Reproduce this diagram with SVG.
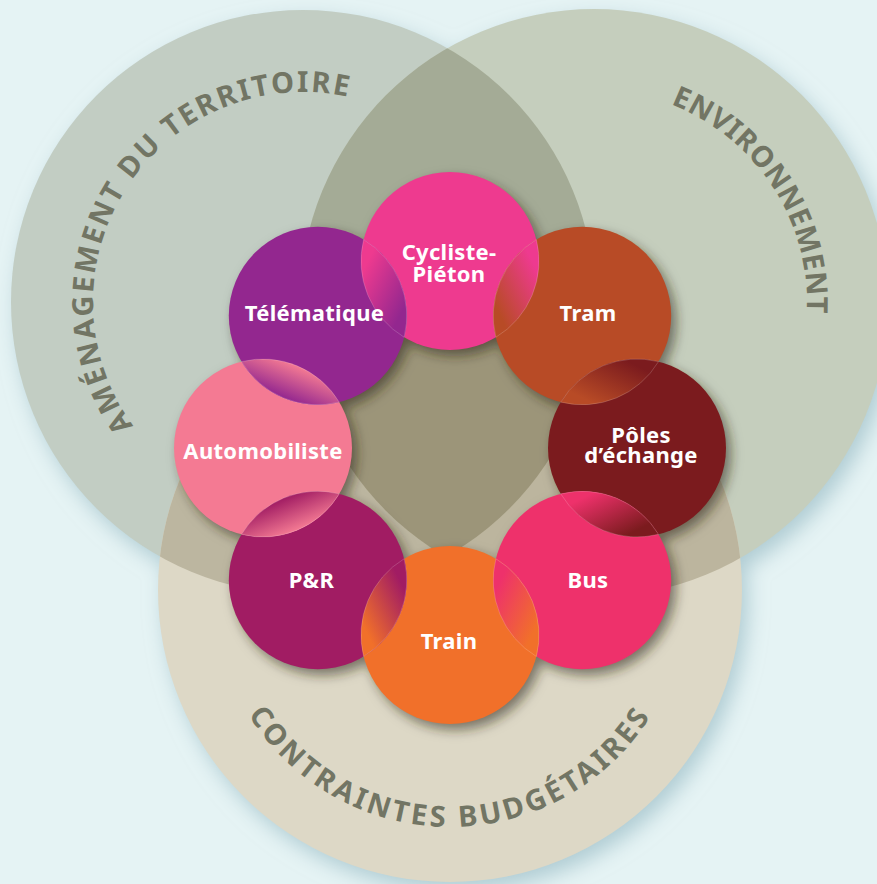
<svg xmlns="http://www.w3.org/2000/svg" width="877" height="884" viewBox="0 0 877 884">
<defs>
<style>
.node-label{font-family:"Noto Sans","DejaVu Sans",sans-serif;font-weight:700;font-size:22px;fill:#ffffff;text-anchor:middle;letter-spacing:0.3px}
.arc-label{font-family:"Noto Sans","DejaVu Sans",sans-serif;font-weight:700;font-size:29px;fill:#727564}
.lens{stroke:#ffffff;stroke-opacity:0.22;stroke-width:0.8}
</style>
<filter id="bigShadow" x="-10%" y="-10%" width="125%" height="125%">
<feGaussianBlur in="SourceAlpha" stdDeviation="10"/>
<feOffset dx="6" dy="9" result="b"/>
<feFlood flood-color="#9fc0c9" flood-opacity="0.75"/>
<feComposite in2="b" operator="in"/>
</filter>
<filter id="smallShadow" x="-20%" y="-20%" width="140%" height="140%">
<feGaussianBlur in="SourceAlpha" stdDeviation="6"/>
<feOffset dx="5" dy="6" result="b"/>
<feFlood flood-color="#2b2615" flood-opacity="0.55"/>
<feComposite in2="b" operator="in"/>
</filter>
<clipPath id="clipL"><circle cx="303" cy="302" r="292"/></clipPath>
<clipPath id="clipR"><circle cx="594" cy="303" r="294"/></clipPath>
<path id="arcL" d="M 219.60 494.73 A 210 210 0 1 1 447.26 149.39" fill="none"/>
<path id="arcR" d="M 448.73 147.22 A 213 213 0 1 1 677.23 499.07" fill="none"/>
<path id="arcB" d="M 216.6 548.84 A 237 237 0 1 0 683.4 548.84" fill="none"/>
<linearGradient id="g1" gradientUnits="userSpaceOnUse" x1="407.65" y1="300.18" x2="360.11" y2="276.58"><stop offset="0" stop-color="#93278f"/><stop offset="1" stop-color="#ee3a8f"/></linearGradient>
<linearGradient id="gA" gradientUnits="userSpaceOnUse" x1="492.35" y1="300.18" x2="539.89" y2="276.58"><stop offset="0" stop-color="#b84b26"/><stop offset="1" stop-color="#ee3a8f"/></linearGradient>
<linearGradient id="gB" gradientUnits="userSpaceOnUse" x1="597.82" y1="405.65" x2="621.42" y2="358.11"><stop offset="0" stop-color="#b84b26"/><stop offset="1" stop-color="#7b1b1e"/></linearGradient>
<linearGradient id="gC" gradientUnits="userSpaceOnUse" x1="597.82" y1="490.35" x2="621.42" y2="537.89"><stop offset="0" stop-color="#ee316b"/><stop offset="1" stop-color="#7b1b1e"/></linearGradient>
<linearGradient id="gD" gradientUnits="userSpaceOnUse" x1="492.35" y1="595.82" x2="539.89" y2="619.42"><stop offset="0" stop-color="#ee316b"/><stop offset="1" stop-color="#f1702a"/></linearGradient>
<linearGradient id="gE" gradientUnits="userSpaceOnUse" x1="407.65" y1="595.82" x2="360.11" y2="619.42"><stop offset="0" stop-color="#a11c63"/><stop offset="1" stop-color="#f1702a"/></linearGradient>
<linearGradient id="gF" gradientUnits="userSpaceOnUse" x1="283.70" y1="498.00" x2="297.06" y2="530.24"><stop offset="0" stop-color="#a11c63"/><stop offset="1" stop-color="#f47a93"/></linearGradient>
<linearGradient id="gG" gradientUnits="userSpaceOnUse" x1="283.70" y1="398.00" x2="297.06" y2="365.76"><stop offset="0" stop-color="#93278f"/><stop offset="1" stop-color="#f47a93"/></linearGradient>
</defs>

<rect width="877" height="884" fill="#e5f3f4"/>

<!-- shadow of big circles -->
<g filter="url(#bigShadow)">
<circle cx="303" cy="302" r="292" fill="#000"/>
<circle cx="594" cy="303" r="294" fill="#000"/>
<circle cx="450" cy="590" r="292" fill="#000"/>
</g>

<g id="node-amenagement">
<circle cx="303" cy="302" r="292" fill="#c2cdc3"/>
</g>
<g id="node-environnement">
<circle cx="594" cy="303" r="294" fill="#c5cebd"/>
</g>
<g id="node-contraintes">
<circle cx="450" cy="590" r="292" fill="#ddd8c6"/>
</g>

<g id="big-overlaps">
<g clip-path="url(#clipL)"><circle cx="594" cy="303" r="294" fill="#a4ab96"/></g>
<g clip-path="url(#clipL)"><circle cx="450" cy="590" r="292" fill="#bcb6a0"/></g>
<g clip-path="url(#clipR)"><circle cx="450" cy="590" r="292" fill="#bcb59e"/></g>
<g clip-path="url(#clipL)"><g clip-path="url(#clipR)"><circle cx="450" cy="590" r="292" fill="#9c9579"/></g></g>
</g>

<g id="big-labels">
<text class="arc-label" letter-spacing="2.2"><textPath href="#arcL" startOffset="50%" text-anchor="middle">AMÉNAGEMENT DU TERRITOIRE</textPath></text>
<text class="arc-label" letter-spacing="0.6"><textPath href="#arcR" startOffset="50%" text-anchor="middle">ENVIRONNEMENT</textPath></text>
<text class="arc-label" letter-spacing="3.2"><textPath href="#arcB" startOffset="50%" text-anchor="middle">CONTRAINTES BUDGÉTAIRES</textPath></text>
</g>

<!-- shadow of small circles -->
<g filter="url(#smallShadow)">
<circle cx="450" cy="261" r="89"/>
<circle cx="582.2" cy="315.8" r="89"/>
<circle cx="637" cy="448" r="89"/>
<circle cx="582.2" cy="580.2" r="89"/>
<circle cx="450" cy="635" r="89"/>
<circle cx="317.8" cy="580.2" r="89"/>
<circle cx="263" cy="448" r="89"/>
<circle cx="317.8" cy="315.8" r="89"/>
</g>

<g id="nodes">
<g id="node-cycliste"><circle cx="450" cy="261" r="89" fill="#ee3a8f"/></g>
<g id="node-tram"><circle cx="582.2" cy="315.8" r="89" fill="#b84b26"/></g>
<g id="node-poles"><circle cx="637" cy="448" r="89" fill="#7b1b1e"/></g>
<g id="node-bus"><circle cx="582.2" cy="580.2" r="89" fill="#ee316b"/></g>
<g id="node-train"><circle cx="450" cy="635" r="89" fill="#f1702a"/></g>
<g id="node-pr"><circle cx="317.8" cy="580.2" r="89" fill="#a11c63"/></g>
<g id="node-automobiliste"><circle cx="263" cy="448" r="89" fill="#f47a93"/></g>
<g id="node-telematique"><circle cx="317.8" cy="315.8" r="89" fill="#93278f"/></g>
</g>

<g id="overlaps">
<path class="lens" fill="url(#g1)" d="M 363.64 239.51 A 89 89 0 0 1 404.13 337.25 A 89 89 0 0 1 363.64 239.51 Z"/>
<path class="lens" fill="url(#gA)" d="M 536.36 239.51 A 89 89 0 0 1 495.87 337.25 A 89 89 0 0 1 536.36 239.51 Z"/>
<path class="lens" fill="url(#gB)" d="M 658.49 361.64 A 89 89 0 0 1 560.75 402.13 A 89 89 0 0 1 658.49 361.64 Z"/>
<path class="lens" fill="url(#gC)" d="M 658.49 534.36 A 89 89 0 0 1 560.75 493.87 A 89 89 0 0 1 658.49 534.36 Z"/>
<path class="lens" fill="url(#gD)" d="M 536.36 656.49 A 89 89 0 0 1 495.87 558.75 A 89 89 0 0 1 536.36 656.49 Z"/>
<path class="lens" fill="url(#gE)" d="M 363.64 656.49 A 89 89 0 0 1 404.13 558.75 A 89 89 0 0 1 363.64 656.49 Z"/>
<path class="lens" fill="url(#gF)" d="M 241.51 534.36 A 89 89 0 0 1 339.25 493.87 A 89 89 0 0 1 241.51 534.36 Z"/>
<path class="lens" fill="url(#gG)" d="M 241.51 361.64 A 89 89 0 0 1 339.25 402.13 A 89 89 0 0 1 241.51 361.64 Z"/>
</g>

<g id="connectors"></g>

<g id="labels">
<text class="node-label" x="449" y="260">Cycliste-<tspan x="449" y="281.7">Piéton</tspan></text>
<text class="node-label" x="588" y="320.5">Tram</text>
<text class="node-label" x="641" y="443.3">Pôles<tspan x="641" y="463.3">d’échange</tspan></text>
<text class="node-label" x="588" y="587.7">Bus</text>
<text class="node-label" x="449" y="649">Train</text>
<text class="node-label" x="311.5" y="587.7">P&amp;R</text>
<text class="node-label" x="263" y="459">Automobiliste</text>
<text class="node-label" x="314.5" y="320.5">Télématique</text>
</g>
</svg>
